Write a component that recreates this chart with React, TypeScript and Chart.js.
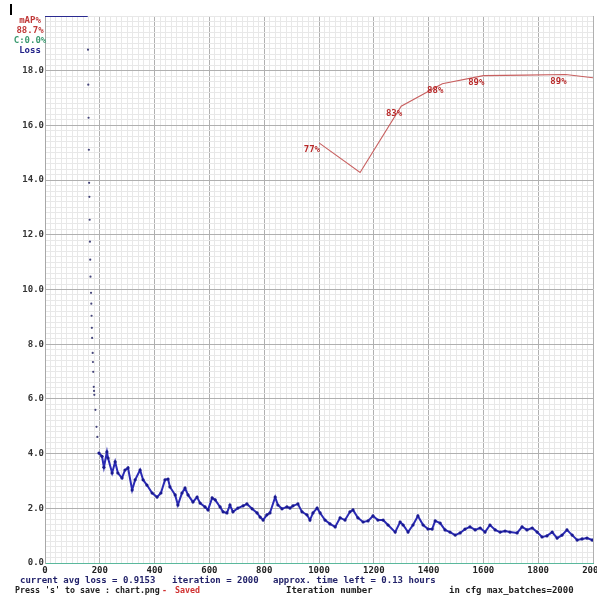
import React, { useEffect, useRef } from 'react';
import { Chart, registerables } from 'chart.js';

Chart.register(...registerables);

// Loss clipped at the top of the chart (loss > 20) before the drop
const clippedIterations = [0, 156];
const clippedLoss = [20, 20];

// Sparse dots of the steep initial drop
const dropIterations = [157, 158, 159, 160, 161, 162, 163, 164, 165, 166, 168, 169, 170, 171, 172, 174, 175, 176, 178, 179, 180, 184, 188, 191];
const dropLoss = [18.77, 17.49, 16.28, 15.11, 13.9, 13.39, 12.55, 11.75, 11.09, 10.47, 9.88, 9.48, 9.04, 8.6, 8.23, 7.68, 7.35, 6.99, 6.44, 6.29, 6.15, 5.6, 4.98, 4.61];

// Main loss curve
const lossIterations = [
  197, 208, 215, 226, 230, 245, 256, 266, 281, 292, 303, 318, 329, 347, 358, 372, 391, 409, 423, 438,
  449, 456, 475, 485, 500, 511, 522, 540, 555, 566, 584, 595, 610, 621, 639, 650, 664, 675, 686, 704,
  723, 737, 756, 774, 785, 796, 810, 821, 840, 850, 865, 883, 894, 905, 923, 938, 956, 967, 978, 993,
  1004, 1022, 1040, 1059, 1077, 1095, 1113, 1124, 1142, 1161, 1179, 1197, 1215, 1234, 1252, 1278, 1296, 1307, 1325, 1343,
  1361, 1380, 1398, 1413, 1424, 1442, 1460, 1478, 1497, 1515, 1533, 1551, 1570, 1588, 1606, 1624, 1643, 1661, 1679, 1697,
  1723, 1741, 1759, 1778, 1796, 1814, 1832, 1851, 1869, 1887, 1905, 1924, 1942, 1960, 1978, 1997,
];
const lossValues = [
  4.02, 3.9, 3.5, 4.06, 3.84, 3.29, 3.7, 3.29, 3.11, 3.4, 3.48, 2.67, 3.04, 3.4, 3.04, 2.85, 2.56, 2.41, 2.56, 3.04,
  3.07, 2.78, 2.49, 2.12, 2.56, 2.74, 2.49, 2.23, 2.41, 2.19, 2.05, 1.94, 2.38, 2.31, 2.05, 1.87, 1.83, 2.12, 1.87, 2.01,
  2.09, 2.16, 1.98, 1.83, 1.68, 1.57, 1.76, 1.83, 2.41, 2.12, 1.98, 2.05, 2.01, 2.09, 2.16, 1.87, 1.76, 1.57, 1.83, 2.01,
  1.83, 1.57, 1.43, 1.32, 1.65, 1.57, 1.87, 1.94, 1.65, 1.5, 1.54, 1.72, 1.57, 1.57, 1.39, 1.13, 1.5, 1.39, 1.13, 1.39,
  1.72, 1.39, 1.24, 1.24, 1.54, 1.46, 1.21, 1.13, 1.02, 1.1, 1.24, 1.32, 1.21, 1.28, 1.13, 1.39, 1.21, 1.13, 1.17, 1.13,
  1.1, 1.32, 1.21, 1.28, 1.13, 0.95, 0.99, 1.13, 0.91, 1.02, 1.21, 1.02, 0.84, 0.88, 0.91, 0.84,
];

// mAP (%) checkpoints
const mapIterations = [1000, 1150, 1300, 1450, 1600, 1750, 1900, 2000];
const mapValues = [76.8, 71.4, 83.5, 87.6, 89.1, 89.2, 89.3, 88.7];
const mapLabels = ['77%', '', '83%', '88%', '89%', '', '89%', ''];

// Axis ticks
const xMajorStep = 200;
const xMinorStep = 20;
const yMajorStep = 2;
const yMinorStep = 0.2;

// Legend and status texts
const legendLines = ['mAP%', '88.7%', 'C:0.0%', 'Loss'];
const statusLine1 = ['current avg loss = 0.9153', 'iteration = 2000', 'approx. time left = 0.13 hours'];
const statusLine2 = ["Press 's' to save : chart.png", '-', 'Saved', 'Iteration number', 'in cfg max_batches=2000'];

const FONT = '"DejaVu Sans Mono", monospace';
const MAJOR = '#b0b0b0';
const MINOR = '#e8e8e8';

const isMultiple = (v: number, step: number) => Math.abs(v / step - Math.round(v / step)) < 1e-6;

const textPlugin = {
  id: 'darknetText',
  afterDraw(chart: any) {
    const ctx = chart.ctx as CanvasRenderingContext2D;
    ctx.save();
    // cursor-like bar top-left
    ctx.fillStyle = '#000';
    ctx.fillRect(10, 4, 2, 11);

    ctx.font = `bold 9px ${FONT}`;
    ctx.textBaseline = 'middle';
    ctx.textAlign = 'center';
    const legendColors = ['#c03838', '#c03838', '#3a9a70', '#22228a'];
    const legendY = [21, 31, 41, 51];
    legendLines.forEach((t, i) => {
      ctx.fillStyle = legendColors[i];
      ctx.fillText(t, 30, legendY[i]);
    });

    // mAP labels
    const xs = chart.scales.x;
    const ym = chart.scales.yMap;
    ctx.textAlign = 'right';
    ctx.fillStyle = '#b82828';
    mapIterations.forEach((it, i) => {
      const label = mapLabels[i];
      if (!label) return;
      const px = xs.getPixelForValue(it);
      const py = ym.getPixelForValue(mapValues[i]);
      ctx.fillText(label, px + 1, py + 7);
    });

    // status texts
    ctx.textAlign = 'left';
    ctx.font = `bold 9px ${FONT}`;
    ctx.fillStyle = '#22226a';
    ctx.fillText(statusLine1[0], 20, 581);
    ctx.fillText(statusLine1[1], 172, 581);
    ctx.fillText(statusLine1[2], 273, 581);
    ctx.font = `bold 8.3px ${FONT}`;
    ctx.fillStyle = '#202020';
    ctx.fillText(statusLine2[0], 15, 591);
    ctx.fillStyle = '#d03030';
    ctx.fillText(statusLine2[1], 162, 591);
    ctx.fillText(statusLine2[2], 175, 591);
    ctx.font = `bold 9px ${FONT}`;
    ctx.fillStyle = '#202020';
    ctx.fillText(statusLine2[3], 286, 591);
    ctx.fillText(statusLine2[4], 449, 591);
    ctx.restore();
  },
};

export default function App() {
  const ref = useRef<HTMLCanvasElement | null>(null);

  useEffect(() => {
    if (!ref.current) return;
    const chart = new Chart(ref.current, {
      type: 'line',
      data: {
        datasets: [
          {
            label: 'mAP%',
            data: mapIterations.map((x, i) => ({ x, y: mapValues[i] })),
            yAxisID: 'yMap',
            borderColor: '#c86060',
            borderWidth: 1.1,
            pointRadius: 0,
            fill: false,
          },
          {
            label: 'Loss',
            data: lossIterations.map((x, i) => ({ x, y: lossValues[i] })),
            yAxisID: 'y',
            borderColor: '#2a2ab4',
            backgroundColor: '#1a1a90',
            borderWidth: 2,
            pointRadius: 1.6,
            pointBorderWidth: 0,
            fill: false,
          },
          {
            label: 'Loss drop',
            data: dropIterations.map((x, i) => ({ x, y: dropLoss[i] })),
            yAxisID: 'y',
            showLine: false,
            backgroundColor: '#45457a',
            borderColor: '#45457a',
            pointRadius: 1.1,
            pointBorderWidth: 0,
          },
          {
            label: 'Loss clipped',
            data: clippedIterations.map((x, i) => ({ x, y: clippedLoss[i] })),
            yAxisID: 'y',
            borderColor: '#2a2a90',
            borderWidth: 2,
            pointRadius: 0,
          },
        ],
      },
      options: {
        responsive: false,
        animation: false,
        devicePixelRatio: 1,
        layout: { padding: { top: 16, right: 4, left: 0, bottom: 0 } },
        plugins: { legend: { display: false }, tooltip: { enabled: false } },
        scales: {
          x: {
            type: 'linear',
            min: 0,
            max: 2000,
            ticks: {
              stepSize: xMinorStep,
              autoSkip: false,
              maxRotation: 0,
              minRotation: 0,
              padding: 2,
              color: '#222',
              font: { family: FONT, size: 9, weight: 'bold' },
              callback: (v: any) => (isMultiple(Number(v), xMajorStep) ? String(v) : ''),
            },
            grid: {
              drawTicks: false,
              color: (c: any) => (c.tick && isMultiple(c.tick.value, xMajorStep) ? MAJOR : MINOR),
            },
            border: { display: true, color: '#5ab89c', width: 1 },
            afterFit: (s: any) => {
              s.height = 38;
              s.paddingLeft = 0;
              s.paddingRight = 0;
            },
          },
          y: {
            type: 'linear',
            min: 0,
            max: 20,
            ticks: {
              stepSize: yMinorStep,
              autoSkip: false,
              padding: 1,
              color: '#333',
              font: { family: FONT, size: 9, weight: 'bold' },
              callback: (v: any) => {
                const n = Number(v);
                return isMultiple(n, yMajorStep) && n < 19.9 ? n.toFixed(1) : '';
              },
            },
            grid: {
              drawTicks: false,
              color: (c: any) =>
                c.tick && isMultiple(c.tick.value, yMajorStep) && c.tick.value < 19.9 ? MAJOR : MINOR,
            },
            border: { display: true, color: '#a8a8a8', width: 1 },
            afterFit: (s: any) => {
              s.width = 45;
              s.paddingTop = 0;
              s.paddingBottom = 0;
            },
          },
          yMap: {
            type: 'linear',
            display: false,
            min: 0,
            max: 100,
          },
        },
      } as any,
      plugins: [textPlugin],
    });
    return () => chart.destroy();
  }, []);

  return (
    <div style={{ position: 'fixed', left: 0, top: 0, width: 597, height: 601, background: '#fff' }}>
      <canvas ref={ref} width={597} height={601} style={{ display: 'block' }} />
    </div>
  );
}
